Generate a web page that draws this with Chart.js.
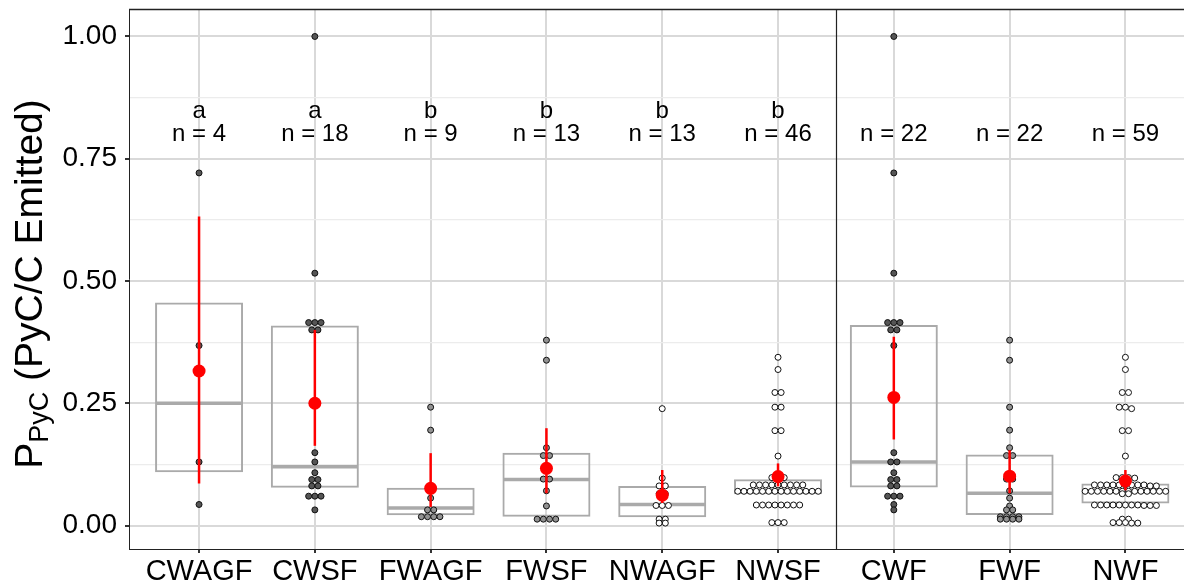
<!DOCTYPE html>
<html><head><meta charset="utf-8">
<script src="https://cdn.jsdelivr.net/npm/chart.js@4.4.0/dist/chart.umd.min.js"></script>
<style>html,body{margin:0;padding:0;background:#fff;}canvas{display:block;}</style>
</head><body>
<canvas id="c" width="1184" height="586"></canvas>
<script>
// ---------------- data ----------------
const categories = ['CWAGF','CWSF','FWAGF','FWSF','NWAGF','NWSF','CWF','FWF','NWF'];
const letters    = ['a','a','b','b','b','b','','',''];
const counts     = [4,18,9,13,13,46,22,22,59];

const valsCWAGF = [0.721,0.368,0.130,0.043];
const valsCWSF  = [1.000,0.516,0.415,0.415,0.415,0.400,0.400,0.149,0.130,0.108,0.094,0.094,0.081,0.081,0.060,0.060,0.060,0.032];
const valsFWAGF = [0.242,0.195,0.056,0.032,0.032,0.018,0.018,0.018,0.018];
const valsFWSF  = [0.379,0.338,0.159,0.143,0.143,0.095,0.095,0.071,0.040,0.013,0.013,0.013,0.013];
const valsNWAGF = [0.239,0.097,0.081,0.081,0.065,0.065,0.041,0.041,0.041,0.013,0.013,0.005,0.005];
const valsNWSF  = [0.344,0.319,0.272,0.272,0.242,0.242,0.194,0.194,0.142,0.098,0.098,0.098,
                   0.083,0.083,0.083,0.083,0.083,0.083,0.083,0.083,0.083,
                   0.070,0.070,0.070,0.070,0.070,0.070,0.070,0.070,0.070,0.070,0.070,0.070,0.070,0.070,
                   0.042,0.042,0.042,0.042,0.042,0.042,0.042,0.042,0.006,0.006,0.006];
const valsCWF   = [1.000,0.721,0.516,0.415,0.415,0.415,0.400,0.400,0.368,0.149,0.130,0.130,0.108,0.094,0.094,0.081,0.081,0.060,0.060,0.060,0.043,0.032];
const valsFWF   = [0.379,0.338,0.242,0.195,0.159,0.143,0.143,0.095,0.095,0.071,0.056,0.040,0.032,0.032,0.018,0.018,0.018,0.018,0.013,0.013,0.013,0.013];
const valsNWF   = [0.344,0.319,0.272,0.272,0.242,0.242,0.239,0.194,0.194,0.142,0.098,0.098,0.098,0.097,
                   0.083,0.083,0.083,0.083,0.083,0.083,0.083,0.083,0.083,0.081,0.081,
                   0.070,0.070,0.070,0.070,0.070,0.070,0.070,0.070,0.070,0.070,0.070,0.070,0.070,0.070,0.065,0.065,
                   0.042,0.042,0.042,0.042,0.042,0.042,0.042,0.042,0.041,0.041,0.041,
                   0.013,0.013,0.006,0.006,0.006,0.005,0.005];

const boxQ1     = [0.109,0.077,0.021,0.018,0.017,0.064,0.078,0.0215,0.045];
const boxMedian = [0.250,0.120,0.036,0.094,0.043,0.070,0.130,0.066,0.070];
const boxQ3     = [0.456,0.409,0.077,0.149,0.081,0.0945,0.410,0.145,0.086];
const means     = [0.316,0.250,0.076,0.117,0.062,0.100,0.262,0.101,0.091];
const ciLow     = [0.086,0.163,0.038,0.066,0.046,0.080,0.176,0.066,0.072];
const ciHigh    = [0.632,0.400,0.148,0.199,0.1135,0.127,0.386,0.154,0.1135];

const yMajorTicks = [0,0.25,0.5,0.75,1];
const yMinorTicks = [0.125,0.375,0.625,0.875];

// ---------------- styles ----------------
const FONT = "'Liberation Sans', Arial, sans-serif";
const dotFill = ['#555555','#555555','#929292','#929292','#ffffff','#ffffff','#555555','#929292','#ffffff'];
const groups = [valsCWAGF,valsCWSF,valsFWAGF,valsFWSF,valsNWAGF,valsNWSF,valsCWF,valsFWF,valsNWF];
const DOT_STEP = 0.0535;   // horizontal spacing of swarm dots (category units)
const ROW_TOL = 0.004;     // values closer than this share a swarm row

function swarm(values, center){
  const sorted = values.slice().sort((a,b)=>b-a);
  const rows = [];
  sorted.forEach(v=>{
    const r = rows.find(r=>Math.abs(r.ref-v)<ROW_TOL);
    if(r) r.items.push(v); else rows.push({ref:v,items:[v]});
  });
  const pts=[];
  rows.forEach(r=>{const k=r.items.length; r.items.forEach((v,i)=>pts.push({x:center+(i-(k-1)/2)*DOT_STEP,y:v}));});
  return pts;
}

const datasets = [];
// boxes
datasets.push({type:'bar', order:5, grouped:false,
  data: categories.map((c,i)=>({x:i,y:[boxQ1[i],boxQ3[i]]})),
  backgroundColor:'rgba(0,0,0,0)', borderColor:'#aaaaaa', borderWidth:2, borderSkipped:false,
  barThickness:88, inflateAmount:0});
// medians
datasets.push({type:'scatter', order:4,
  data: categories.map((c,i)=>({x:i,y:boxMedian[i]})),
  pointStyle:'line', pointRadius:43, borderColor:'#aaaaaa', pointBorderWidth:3.5, backgroundColor:'#aaaaaa'});
// dots
groups.forEach((g,i)=>{
  datasets.push({type:'scatter', order:3, data: swarm(g,i),
    pointRadius:3, pointBorderWidth:1, borderColor:'#111111', backgroundColor:dotFill[i], pointStyle:'circle'});
});
// error bars
datasets.push({type:'bar', order:2, grouped:false,
  data: categories.map((c,i)=>({x:i,y:[ciLow[i],ciHigh[i]]})),
  backgroundColor:'#ff0000', borderWidth:0, barThickness:2.5, inflateAmount:0});
// means
datasets.push({type:'scatter', order:1,
  data: categories.map((c,i)=>({x:i,y:means[i]})),
  pointRadius:6.5, pointBorderWidth:0, backgroundColor:'#ff0000', borderColor:'#ff0000'});

const decorPlugin = {
  id:'decor',
  afterDatasetsDraw(chart){
    const {ctx, chartArea:a, scales:{x,y}} = chart;
    ctx.save();
    // frame top & separator
    ctx.strokeStyle='#222'; ctx.lineWidth=1.6;
    ctx.beginPath(); ctx.moveTo(a.left, a.top+0.5); ctx.lineTo(a.right, a.top+0.5); ctx.stroke();
    ctx.lineWidth=1.2;
    const sx = Math.round(x.getPixelForValue(5.5))+0.5;
    ctx.beginPath(); ctx.moveTo(sx, a.top); ctx.lineTo(sx, a.bottom); ctx.stroke();
    // annotations
    ctx.fillStyle='#000'; ctx.textAlign='center'; ctx.textBaseline='middle';
    ctx.font = '24px '+FONT;
    categories.forEach((c,i)=>{
      const px = x.getPixelForValue(i);
      if(letters[i]) ctx.fillText(letters[i], px, y.getPixelForValue(0.847));
      ctx.fillText('n = '+counts[i], px, y.getPixelForValue(0.799));
    });
    // y title with subscript
    const big = 39, small = 27;
    ctx.translate(31, (a.top+a.bottom)/2 + 5);
    ctx.rotate(-Math.PI/2);
    ctx.textAlign='left'; ctx.textBaseline='middle';
    ctx.font = big+'px '+FONT; const w1 = ctx.measureText('P').width;
    ctx.font = small+'px '+FONT; const w2 = ctx.measureText('PyC').width;
    ctx.font = big+'px '+FONT; const w3 = ctx.measureText(' (PyC/C Emitted)').width;
    let sx0 = -(w1+w2+w3)/2;
    ctx.fillText('P', sx0, 0);
    ctx.font = small+'px '+FONT; ctx.fillText('PyC', sx0+w1, 10);
    ctx.font = big+'px '+FONT; ctx.fillText(' (PyC/C Emitted)', sx0+w1+w2, 0);
    ctx.restore();
  }
};

new Chart(document.getElementById('c'), {
  type:'scatter',
  data:{datasets},
  options:{
    responsive:false, animation:false, events:[],
    layout:{autoPadding:false, padding:{top:9,left:0,right:0,bottom:0}},
    plugins:{legend:{display:false}, tooltip:{enabled:false}, title:{display:false}},
    scales:{
      x:{type:'linear', min:-0.605, max:8.506, offset:false,
         afterBuildTicks: ax=>{ax.ticks = categories.map((c,i)=>({value:i}));},
         afterFit: s=>{s.height=37; s.paddingLeft=0; s.paddingRight=0;},
         ticks:{autoSkip:false, maxRotation:0, padding:2, color:'#000', font:{family:FONT,size:29},
                callback:v=>categories[v]},
         grid:{offset:false, color:'#d9d9d9', lineWidth:2, tickLength:4, tickColor:'#333', drawTicks:true},
         border:{display:true, color:'#222', width:1}},
      y:{type:'linear', min:-0.048, max:1.0562,
         afterBuildTicks: ax=>{ax.ticks = yMajorTicks.concat(yMinorTicks).sort((a,b)=>a-b).map(v=>({value:v}));},
         afterFit: s=>{s.width=129; s.paddingTop=0; s.paddingBottom=0;},
         ticks:{padding:8, color:'#000', font:{family:FONT,size:28},
                callback:v=>yMajorTicks.includes(v)?v.toFixed(2):''},
         grid:{color:c=>yMinorTicks.includes(c.tick&&c.tick.value)?'#ececec':'#d9d9d9',
               lineWidth:c=>yMinorTicks.includes(c.tick&&c.tick.value)?1.2:2,
               tickColor:c=>yMinorTicks.includes(c.tick&&c.tick.value)?'rgba(0,0,0,0)':'#333',
               tickLength:4},
         border:{display:true, color:'#222', width:1}}
    }
  },
  plugins:[decorPlugin]
});
</script>
</body></html>
